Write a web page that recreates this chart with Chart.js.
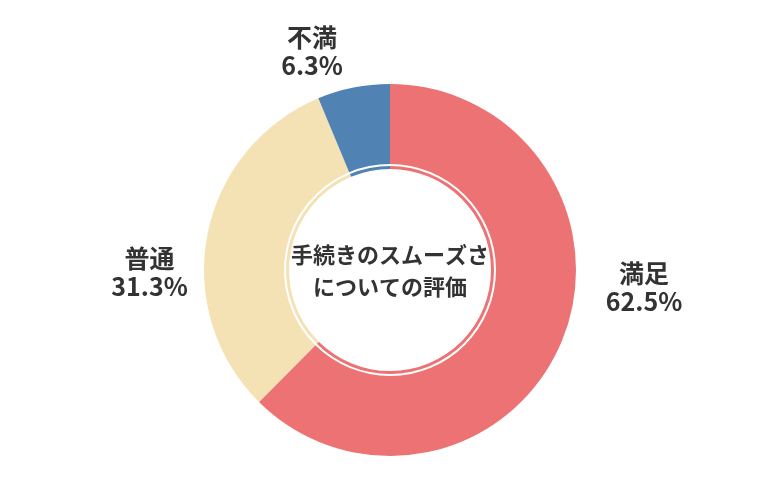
<!DOCTYPE html>
<html lang="ja">
<head>
<meta charset="utf-8">
<script src="https://cdn.jsdelivr.net/npm/chart.js@4.4.1/dist/chart.umd.min.js"></script>
<style>
  html, body { margin: 0; padding: 0; background: #fff; }
  #wrap { width: 780px; height: 500px; position: relative; }
</style>
</head>
<body>
<div id="wrap"><canvas id="satisfactionChart"></canvas></div>
<script>
// データ
const categories = ['満足', '普通', '不満'];
const values = [62.5, 31.3, 6.3];
const sliceColors = ['#EC7273', '#F4E2B5', '#5083B4'];
const centerTitle = ['手続きのスムーズさ', 'についての評価'];

// ラベル位置（半径に対する相対位置）
const labelOffsets = [
    { dx: 1.366, dy: 0.094 },
    { dx: -1.293, dy: 0.016 },
    { dx: -0.419, dy: -1.177 }
];

const FONT = '"Noto Sans CJK JP", "Noto Sans", sans-serif';
const TEXT_COLOR = '#333333';

const labelPlugin = {
    id: 'outerLabels',
    afterDraw(chart) {
        const meta = chart.getDatasetMeta(0);
        if (!meta.data.length) return;
        const arc = meta.data[0];
        const cx = arc.x;
        const cy = arc.y;
        const r = arc.outerRadius;
        const c = chart.ctx;
        c.save();
        c.fillStyle = TEXT_COLOR;
        c.textAlign = 'center';
        c.textBaseline = 'middle';
        c.font = 'bold 25px ' + FONT;
        categories.forEach(function(label, i) {
            const off = labelOffsets[i];
            const x = cx + off.dx * r;
            const y = cy + off.dy * r;
            c.fillText(label, x, y - 14);
            c.fillText(values[i].toFixed(1) + '%', x, y + 14);
        });
        // 中央のタイトル
        c.font = 'bold 22px ' + FONT;
        c.fillText(centerTitle[0], cx, cy - 15);
        c.fillText(centerTitle[1], cx, cy + 17);
        c.restore();
    }
};

const ctx = document.getElementById('satisfactionChart');

new Chart(ctx, {
    type: 'doughnut',
    data: {
        labels: categories,
        datasets: [
            {
                data: values,
                backgroundColor: sliceColors,
                borderWidth: 0,
                weight: 80
            },
            {
                data: values,
                backgroundColor: 'rgba(0,0,0,0)',
                borderWidth: 0,
                weight: 2
            },
            {
                data: values,
                backgroundColor: sliceColors,
                borderWidth: 0,
                weight: 3
            }
        ]
    },
    options: {
        responsive: true,
        maintainAspectRatio: false,
        animation: false,
        cutout: '54.3%',
        layout: {
            padding: { top: 84, bottom: 44, left: 0, right: 0 }
        },
        plugins: {
            legend: { display: false },
            tooltip: { enabled: false }
        },
        hoverOffset: 0
    },
    plugins: [labelPlugin]
});
</script>
</body>
</html>
